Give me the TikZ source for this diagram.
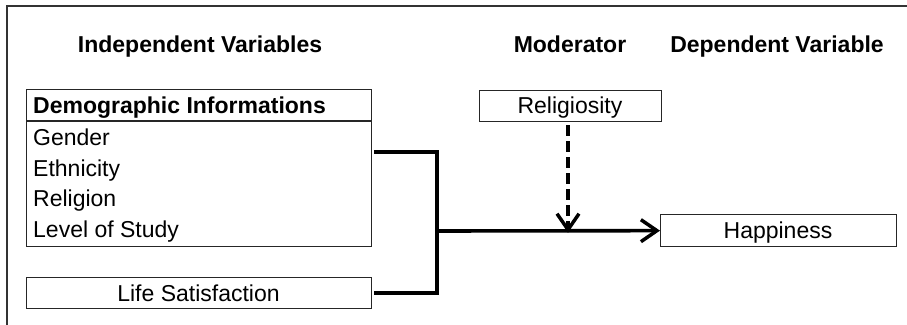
\documentclass[tikz,border=0pt]{standalone}
\usepackage{fontspec}
\setmainfont{Liberation Sans}
\usetikzlibrary{arrows.meta}
\begin{document}
\begin{tikzpicture}[x=1pt,y=-1pt,
  txt/.style={inner sep=0pt,font=\fontsize{23}{28}\selectfont},
  head/.style={txt,font=\fontsize{23}{28}\selectfont\bfseries},
  boxline/.style={draw=black!85,line width=1.3pt},
  thick line/.style={line width=4pt,draw=black},
  barb/.style={-{Straight Barb[length=16pt,width=22pt,line width=3.5pt]}}
]
\useasboundingbox (0,0) rectangle (907,324);
\clip (0,0) rectangle (907,324);
% outer frame (only top and left visible)
\draw[draw=black!80,line width=1.4pt] (7,340) -- (7,6) -- (920,6);

% headings
\node[head,anchor=base] (hind) at (200,52) {Independent Variables};
\node[head,anchor=base] (hmod) at (570,52) {Moderator};
\node[head,anchor=base] (hdep) at (777,52) {Dependent Variable};

% demographic box
\node[boxline,minimum width=345pt,minimum height=157pt,inner sep=0pt,anchor=north west] (demo) at (26,89) {};
\draw[boxline] (26,121) -- (371,121);
\node[head,anchor=base west] (dhead) at (33,113) {Demographic Informations};
\node[txt,anchor=base west] (gender) at (33,145.5) {Gender};
\node[txt,anchor=base west] (eth) at (33,176) {Ethnicity};
\node[txt,anchor=base west] (rel) at (33,206.5) {Religion};
\node[txt,anchor=base west] (lev) at (33,237) {Level of Study};

% life satisfaction
\node[boxline,txt,minimum width=345pt,minimum height=31pt,anchor=north west] (life) at (26,277) {};
\node[txt,anchor=base] (lifet) at (198.5,301) {Life Satisfaction};

% religiosity
\node[boxline,txt,minimum width=182pt,minimum height=31pt,anchor=north west] (relig) at (479,90) {};
\node[txt,anchor=base] (religt) at (570,113) {Religiosity};

% happiness
\node[boxline,txt,minimum width=236pt,minimum height=32pt,anchor=north west] (happy) at (660,214) {};
\node[txt,anchor=base] (happyt) at (778,238) {Happiness};

% connectors
\coordinate (b1) at (374,152);
\coordinate (b2) at (374,293);
\coordinate (j) at (437,231);
\coordinate (m) at (568,231);
\draw[thick line,line join=miter] (b1) -- (437,152) -- (437,293) -- (b2);
\draw[thick line,line width=3.6pt,barb] (j) -- (happy.west);
\draw[line width=3.6pt,dash pattern=on 11pt off 5pt,barb] (568,125) -- ([yshift=-1.8pt]m);
\end{tikzpicture}
\end{document}
